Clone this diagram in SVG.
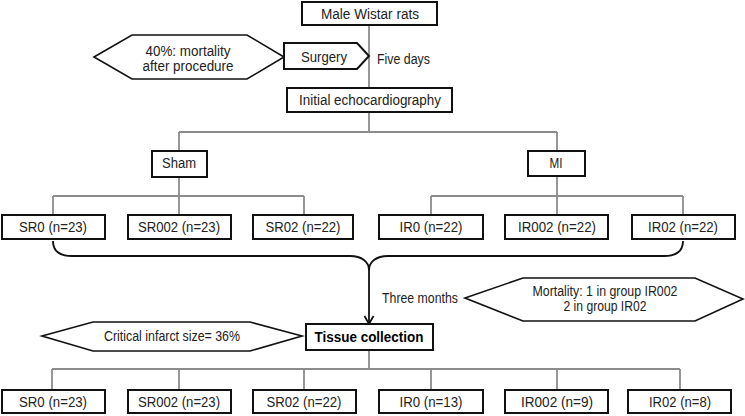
<svg xmlns="http://www.w3.org/2000/svg" width="745" height="416" viewBox="0 0 745 416">
<style>
.box{fill:#fff;stroke:#111;stroke-width:2}
.hex{fill:#fff;stroke:#111;stroke-width:1.6}
.ln{fill:none;stroke:#8c8c8c;stroke-width:1.8}
.br{fill:none;stroke:#111;stroke-width:1.8}
text{font-family:"Liberation Sans",Arial,sans-serif;font-size:14px;fill:#222}
.c{text-anchor:middle}
.b{font-weight:bold;fill:#000}
</style>
<defs>
<marker id="ah" markerWidth="12" markerHeight="12" refX="10" refY="6" orient="auto" markerUnits="userSpaceOnUse">
<path d="M2,1.5 L10,6 L2,10.5" fill="none" stroke="#111" stroke-width="1.8"/>
</marker>
</defs>
<g id="connectors">
<path class="ln" d="M369,25 V88"/>
<path class="ln" d="M369,112 V132 M179,132 H557 M179,132 V151 M557,132 V151"/>
<path class="ln" d="M179,177 V196 M53,196 H304 M53,196 V215 M179,196 V215 M304,196 V215"/>
<path class="ln" d="M557,176 V196 M431,196 H683 M431,196 V215 M557,196 V215 M683,196 V215"/>
<path class="br" d="M53,241 C53,252 60,256 72,256 L350,256 C362,256 369,262 369,270"/>
<path class="br" d="M683,241 C683,252 676,256 664,256 L388,256 C376,256 369,262 369,270"/>
<path class="br" d="M369,270 V324" marker-end="url(#ah)"/>
<path class="ln" d="M369,350 V369 M52,369 H680 M52,369 V390 M179,369 V390 M304,369 V390 M431,369 V390 M557,369 V390 M680,369 V390"/>
</g>
<g id="male"><rect class="box" x="302" y="2" width="135" height="23"/><text class="c" x="370" y="19" textLength="98" lengthAdjust="spacingAndGlyphs">Male Wistar rats</text></g>
<g id="mortality1"><polygon class="hex" points="94,57 132,35 247,35 284,57 247,79 132,79"/><text class="c" x="188" y="56" textLength="85" lengthAdjust="spacingAndGlyphs">40%: mortality</text><text class="c" x="188" y="71" textLength="91" lengthAdjust="spacingAndGlyphs">after procedure</text></g>
<g id="surgery"><polygon class="box" points="284,43 357,43 369,56 357,69 284,69"/><text class="c" x="324" y="62" textLength="46" lengthAdjust="spacingAndGlyphs">Surgery</text></g>
<g id="fivedays"><text x="377" y="64" textLength="53" lengthAdjust="spacingAndGlyphs">Five days</text></g>
<g id="echo"><rect class="box" x="287" y="88" width="165" height="24"/><text class="c" x="370" y="105" textLength="142" lengthAdjust="spacingAndGlyphs">Initial echocardiography</text></g>
<g id="sham"><rect class="box" x="152" y="151" width="55" height="26"/><text class="c" x="179" y="168" textLength="34" lengthAdjust="spacingAndGlyphs">Sham</text></g>
<g id="mi"><rect class="box" x="528" y="151" width="57" height="25"/><text class="c" x="556" y="168" textLength="13" lengthAdjust="spacingAndGlyphs">MI</text></g>
<g id="sr0a"><rect class="box" x="2" y="215" width="103" height="24"/><text class="c" x="53" y="232" textLength="68" lengthAdjust="spacingAndGlyphs">SR0 (n=23)</text></g>
<g id="sr002a"><rect class="box" x="128" y="215" width="103" height="24"/><text class="c" x="179" y="232" textLength="82" lengthAdjust="spacingAndGlyphs">SR002 (n=23)</text></g>
<g id="sr02a"><rect class="box" x="253" y="215" width="100" height="24"/><text class="c" x="303" y="232" textLength="75" lengthAdjust="spacingAndGlyphs">SR02 (n=22)</text></g>
<g id="ir0a"><rect class="box" x="379" y="215" width="104" height="24"/><text class="c" x="431" y="232" textLength="63" lengthAdjust="spacingAndGlyphs">IR0 (n=22)</text></g>
<g id="ir002a"><rect class="box" x="505" y="215" width="103" height="24"/><text class="c" x="557" y="232" textLength="78" lengthAdjust="spacingAndGlyphs">IR002 (n=22)</text></g>
<g id="ir02a"><rect class="box" x="632" y="215" width="103" height="24"/><text class="c" x="683" y="232" textLength="70" lengthAdjust="spacingAndGlyphs">IR02 (n=22)</text></g>
<g id="threemonths"><text x="382" y="303" textLength="76" lengthAdjust="spacingAndGlyphs">Three months</text></g>
<g id="mortality2"><polygon class="hex" points="465,298 523,278 695,278 743,299 695,321 523,321"/><text class="c" x="605" y="296" textLength="145" lengthAdjust="spacingAndGlyphs">Mortality:  1 in group IR002</text><text class="c" x="605" y="311" textLength="83" lengthAdjust="spacingAndGlyphs">2 in group IR02</text></g>
<g id="critical"><polygon class="hex" points="42,336 93,322 250,322 302,336 250,351 93,351"/><text class="c" x="172" y="341" textLength="136" lengthAdjust="spacingAndGlyphs">Critical infarct size= 36%</text></g>
<g id="tissue"><rect class="box" x="306" y="324" width="127" height="26"/><text class="c b" x="369" y="342" textLength="109" lengthAdjust="spacingAndGlyphs">Tissue collection</text></g>
<g id="sr0b"><rect class="box" x="2" y="390" width="103" height="23"/><text class="c" x="53" y="407" textLength="68" lengthAdjust="spacingAndGlyphs">SR0 (n=23)</text></g>
<g id="sr002b"><rect class="box" x="128" y="390" width="103" height="23"/><text class="c" x="179" y="407" textLength="82" lengthAdjust="spacingAndGlyphs">SR002 (n=23)</text></g>
<g id="sr02b"><rect class="box" x="253" y="390" width="103" height="23"/><text class="c" x="304" y="407" textLength="75" lengthAdjust="spacingAndGlyphs">SR02 (n=22)</text></g>
<g id="ir0b"><rect class="box" x="379" y="390" width="104" height="23"/><text class="c" x="431" y="407" textLength="63" lengthAdjust="spacingAndGlyphs">IR0 (n=13)</text></g>
<g id="ir002b"><rect class="box" x="505" y="390" width="103" height="23"/><text class="c" x="557" y="407" textLength="72" lengthAdjust="spacingAndGlyphs">IR002 (n=9)</text></g>
<g id="ir02b"><rect class="box" x="628" y="390" width="103" height="23"/><text class="c" x="680" y="407" textLength="62" lengthAdjust="spacingAndGlyphs">IR02 (n=8)</text></g>
</svg>
